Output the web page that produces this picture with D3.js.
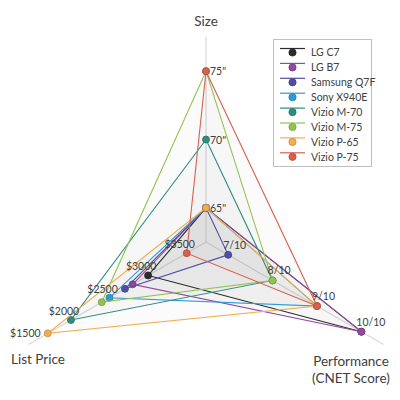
<!DOCTYPE html>
<html>
<head>
<meta charset="utf-8">
<script src="https://cdn.jsdelivr.net/npm/d3@7"></script>
<style>
  html, body { margin: 0; padding: 0; background: #fff; }
  svg { display: block; font-family: Lato, "Open Sans", sans-serif; }
</style>
</head>
<body>
<div id="chart"></div>
<script>
// TV models and their values on the three radar axes
const models = ['LG C7', 'LG B7', 'Samsung Q7F', 'Sony X940E', 'Vizio M-70', 'Vizio M-75', 'Vizio P-65', 'Vizio P-75'];
const sizes = [65, 65, 65, 65, 70, 75, 65, 75];          // inches
const scores = [10, 10, 7, 9, 8, 8, 9, 9];               // CNET score out of 10
const prices = [3000, 2800, 2700, 2500, 2000, 2400, 1700, 3500]; // list price $
const colors = ['#2b2b2b', '#9449a3', '#4f4fa3', '#2e9ad6', '#2f8c7f', '#93c34f', '#f2ae50', '#d8604e'];

const sizeTicks = [65, 70, 75];
const scoreTicks = [7, 8, 9, 10];
const priceTicks = [3500, 3000, 2500, 2000, 1500];

const width = 400, height = 400;
const cx = 206, cy = 242, R = 205;

// angles measured clockwise from 12 o'clock (d3.lineRadial convention)
const angSize = 0, angScore = 2 * Math.PI / 3, angPrice = 4 * Math.PI / 3;

const rSize = d3.scaleLinear().domain([62.5, 77.5]).range([0, R]);
const rScore = d3.scaleLinear().domain([6.5, 10.5]).range([0, R]);
const rPrice = d3.scaleLinear().domain([3750, 1450]).range([0, R]); // reversed: cheaper is further out

const pt = (a, r) => [r * Math.sin(a), -r * Math.cos(a)];

const svg = d3.select('#chart')
    .append('svg')
    .attr('width', width)
    .attr('height', height);

const g = svg.append('g').attr('transform', `translate(${cx},${cy})`);

// axis lines
[angSize, angScore, angPrice].forEach(a => {
    const [x, y] = pt(a, R);
    g.append('line')
        .attr('x1', 0).attr('y1', 0)
        .attr('x2', x).attr('y2', y)
        .attr('stroke', '#d9d9d9')
        .attr('stroke-width', 1.2);
});

const series = models.map((m, i) => ({
    name: m,
    color: colors[i],
    pts: [
        { a: angSize, r: rSize(sizes[i]) },
        { a: angScore, r: rScore(scores[i]) },
        { a: angPrice, r: rPrice(prices[i]) }
    ]
}));

const radial = d3.lineRadial()
    .angle(d => d.a)
    .radius(d => d.r)
    .curve(d3.curveLinearClosed);

// faint fills (they stack up to the grey in the middle)
g.append('g').selectAll('path')
    .data(series)
    .join('path')
    .attr('d', d => radial(d.pts))
    .attr('fill', '#808080')
    .attr('fill-opacity', 0.032)
    .attr('stroke', 'none');

// lines + markers, one series at a time
series.forEach(s => {
    const sg = g.append('g');
    sg.append('path')
        .attr('d', radial(s.pts))
        .attr('fill', 'none')
        .attr('stroke', s.color)
        .attr('stroke-width', 1.1);
    sg.selectAll('circle')
        .data(s.pts)
        .join('circle')
        .attr('cx', d => pt(d.a, d.r)[0])
        .attr('cy', d => pt(d.a, d.r)[1])
        .attr('r', 3.5)
        .attr('fill', s.color)
        .attr('stroke', d3.color(s.color).darker(0.6))
        .attr('stroke-width', 0.8);
});

// value labels on each axis
const labelStyle = sel => sel
    .style('font-size', '10.5px')
    .style('fill', '#404040');

g.append('g').selectAll('text')
    .data(sizeTicks)
    .join('text')
    .attr('x', d => pt(angSize, rSize(d))[0] + 4)
    .attr('y', d => pt(angSize, rSize(d))[1] + 4)
    .call(labelStyle)
    .text(d => d + '"');

g.append('g').selectAll('text')
    .data(scoreTicks)
    .join('text')
    .attr('x', d => pt(angScore, rScore(d))[0] - 5)
    .attr('y', d => pt(angScore, rScore(d))[1] - 6)
    .call(labelStyle)
    .text(d => d + '/10');

g.append('g').selectAll('text')
    .data(priceTicks)
    .join('text')
    .attr('x', d => pt(angPrice, rPrice(d))[0] - 7)
    .attr('y', d => pt(angPrice, rPrice(d))[1] - 5)
    .attr('text-anchor', 'middle')
    .call(labelStyle)
    .text(d => '$' + d);

// axis titles
const titleStyle = sel => sel
    .style('font-size', '13.5px')
    .style('fill', '#404040');

svg.append('text')
    .attr('x', cx).attr('y', 26)
    .attr('text-anchor', 'middle')
    .call(titleStyle)
    .text('Size');

svg.append('text')
    .attr('x', 11).attr('y', 364)
    .call(titleStyle)
    .text('List Price');

const perf = svg.append('text')
    .attr('x', 351).attr('y', 366)
    .attr('text-anchor', 'middle')
    .call(titleStyle);
perf.append('tspan').attr('x', 351).text('Performance');
perf.append('tspan').attr('x', 351).attr('dy', 17).text('(CNET Score)');

// legend
const legend = svg.append('g').attr('class', 'legend');
legend.append('rect')
    .attr('x', 273.5).attr('y', 39.5)
    .attr('width', 98).attr('height', 127)
    .attr('fill', '#fff')
    .attr('stroke', '#bfbfbf');

const rows = legend.selectAll('g.row')
    .data(series)
    .join('g')
    .attr('class', 'row')
    .attr('transform', (d, i) => `translate(0, ${52.5 + i * 14.9})`);

rows.append('line')
    .attr('x1', 280).attr('x2', 305)
    .attr('y1', -4).attr('y2', -4)
    .attr('stroke', d => d.color)
    .attr('stroke-width', 1.2);

rows.append('circle')
    .attr('cx', 292.5).attr('cy', 0)
    .attr('r', 3.6)
    .attr('fill', d => d.color)
    .attr('stroke', d => d3.color(d.color).darker(0.6))
    .attr('stroke-width', 0.8);

rows.append('text')
    .attr('x', 311).attr('y', 3.8)
    .style('font-size', '10.5px')
    .style('fill', '#404040')
    .text(d => d.name);
</script>
</body>
</html>
